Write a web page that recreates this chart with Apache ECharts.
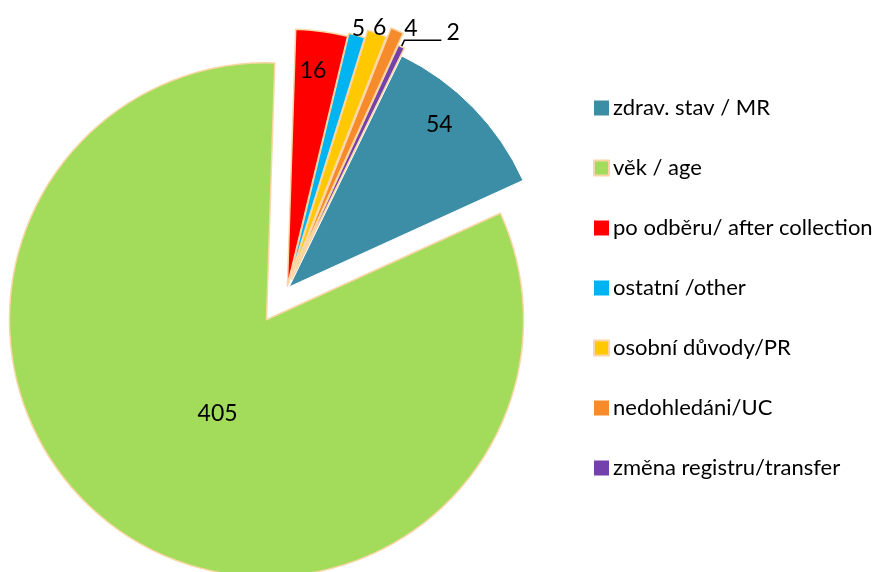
<!DOCTYPE html>
<html>
<head>
<meta charset="utf-8">
<script src="https://cdn.jsdelivr.net/npm/echarts@6/dist/echarts.min.js"></script>
<style>
  html, body {margin: 0; padding: 0; background: #fff;}
  #chart {width: 877px; height: 572px;}
</style>
</head>
<body>
<div id="chart"></div>
<script>
// data
const names = ['zdrav. stav / MR', 'věk / age', 'po odběru/ after collection', 'ostatní /other',
  'osobní důvody/PR', 'nedohledáni/UC', 'změna registru/transfer'];
const values = [54, 405, 16, 5, 6, 4, 2];

// styles
const colors = ['#3b8ea5', '#a2dc5a', '#ff0000', '#00b4f2', '#ffc800', '#f58b2a', '#7440ac'];
const borders = ['#ffffff', '#fad6a4', '#fad6a4', '#fad6a4', '#fad6a4', '#fad6a4', '#fad6a4'];
const legendBorders = [null, '#fad6a4', null, null, '#fad6a4', null, null];
const explode = [3, 37, 3, 6, 14, 24, 11]; // vytažení výsečí
const labelPos = ['inside', 'inside', 'inside', 'outside', 'outside', 'outside', 'outside'];
const labelShift = [[56, -71], [24, -16], [8, -85], [-5, -7], [-4, -6], [7, -2], null];

const fontFam = 'Lato, "Liberation Sans", sans-serif';

const chart = echarts.init(document.getElementById('chart'), null, {renderer: 'canvas'});

const sliceSeries = (k) => {
  const st = {color: colors[k], borderColor: borders[k], borderWidth: k === 0 ? 1 : 1.5};
  const hasLine = k === 6;
  const sh = labelShift[k];
  return {
    type: 'pie',
    name: names[k],
    center: [287, 289],
    radius: 257,
    startAngle: 64,
    clockwise: true,
    selectedMode: 'multiple',
    selectedOffset: explode[k],
    avoidLabelOverlap: false,
    silent: true,
    z: hasLine ? 3 : 2,
    emphasis: {disabled: true},
    label: {
      position: labelPos[k],
      // popisek "2" sedí nad koncem vodicí čáry
      formatter: hasLine ? '{c}\n ' : '{c}',
      color: '#000',
      fontSize: 23,
      lineHeight: hasLine ? 16 : 26,
      fontFamily: fontFam,
      distanceToLabelLine: hasLine ? 5 : 0
    },
    labelLine: {
      show: hasLine,
      length: hasLine ? 7 : 0,
      length2: hasLine ? 37 : 0,
      lineStyle: {color: '#000', width: 1.5}
    },
    labelLayout: sh ? {dx: sh[0], dy: sh[1]} : null,
    data: names.map((n, i) => {
      if (i !== k) {
        return {
          name: n, value: values[i],
          itemStyle: {color: 'rgba(0,0,0,0)', borderWidth: 0},
          label: {show: false}, labelLine: {show: false}
        };
      }
      return {
        name: n, value: values[i], selected: true,
        itemStyle: st,
        select: {itemStyle: st, label: {color: '#000'}}
      };
    })
  };
};

const option = {
  animation: false,
  legend: {
    orient: 'vertical',
    left: 593,
    top: 96,
    padding: 0,
    itemWidth: 15,
    itemHeight: 15,
    itemGap: 36,
    icon: 'rect',
    selectedMode: false,
    textStyle: {fontSize: 22, fontFamily: fontFam, color: '#000', lineHeight: 24, padding: [0, 0, 0, -1]},
    data: names.map((n, i) => ({
      name: n,
      itemStyle: {
        color: colors[i],
        borderColor: legendBorders[i] || colors[i],
        borderWidth: legendBorders[i] ? 2 : 0
      }
    }))
  },
  series: names.map((n, k) => sliceSeries(k))
};

chart.setOption(option);
</script>
</body>
</html>
